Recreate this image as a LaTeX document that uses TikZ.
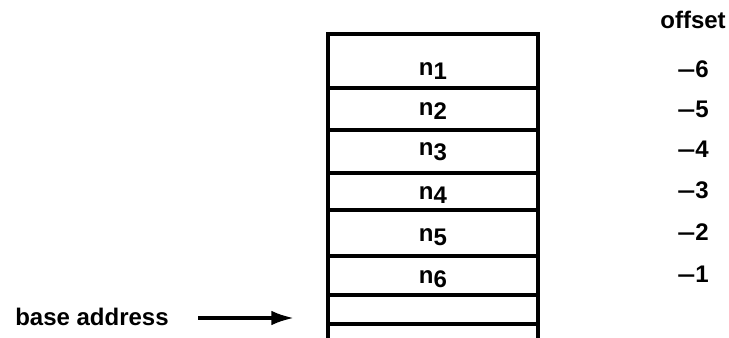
\documentclass[tikz,border=0pt]{standalone}
\usepackage{fontspec}
\setmainfont{Liberation Sans}
\usepackage{tikz}
\usetikzlibrary{arrows.meta,positioning,calc}

\begin{document}
\begin{tikzpicture}[x=0.75pt,y=-0.75pt,
    every node/.style={font=\bfseries\fontsize{18}{21}\selectfont,inner sep=0pt},
    cellline/.style={line width=2.4pt,line cap=rect}]
  \useasboundingbox (0,0) rectangle (729,338);
  % stack of cells
  \draw[cellline] (328,338) -- (328,34) -- (538,34) -- (538,338);
  \foreach \y in {88,130,173,210,256,295,324}
    \draw[cellline] (328,\y) -- (538,\y);
  % cell contents
  \foreach \i/\y in {1/71,2/111,3/152,4/195,5/237,6/279}
    \node (n\i) at (433,\y) {n\raisebox{-3.5pt}{\i}};
  % offsets
  \node[anchor=base east] (offs) at (726,29) {offset};
  \foreach \i/\y in {6/78,5/118,4/158,3/199,2/241,1/283}
    \node[anchor=base west] (o\i) at (677,\y) {\scalebox{1.35}[1]{--}\i};
  % base address
  \node[anchor=base west] (base) at (15,326) {base address};
  \coordinate (tip) at (294,318);
  \draw[line width=2.6pt,-{Latex[length=17pt,width=11pt]}] (198,318) -- (tip);
\end{tikzpicture}
\end{document}
